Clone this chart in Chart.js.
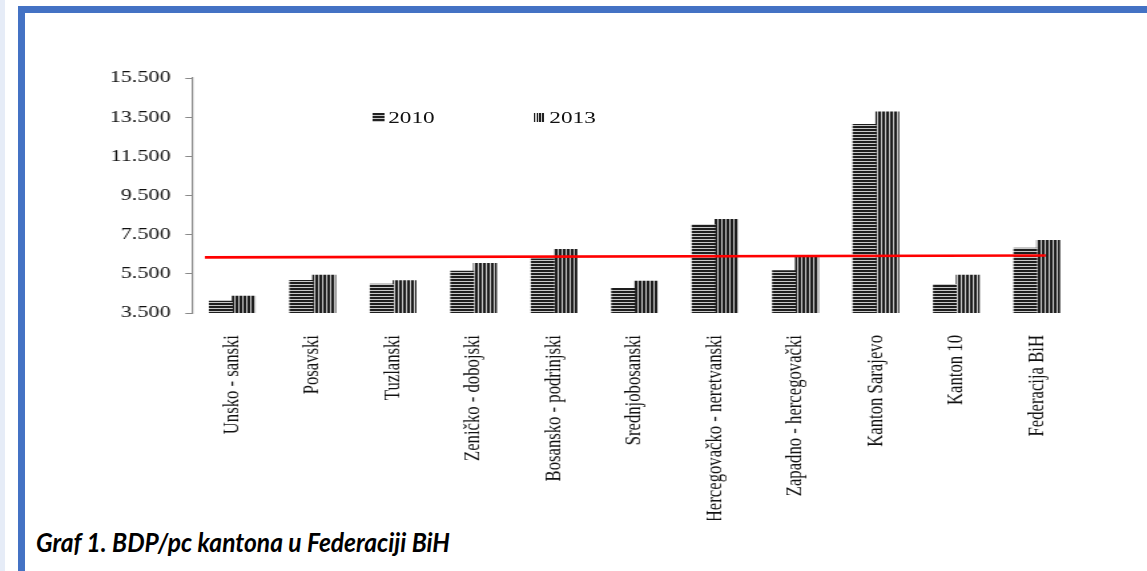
<!DOCTYPE html>
<html>
<head>
<meta charset="utf-8">
<script src="https://cdn.jsdelivr.net/npm/chart.js@4.4.1/dist/chart.umd.min.js"></script>
<style>
html,body{margin:0;padding:0;background:#fff;width:1147px;height:571px;overflow:hidden;position:relative}
#strip{position:absolute;left:0;top:0;width:5px;height:571px;background:#e6ecf7}
#bl{position:absolute;left:18px;top:6px;width:7px;height:565px;background:#4472c4}
#bt{position:absolute;left:18px;top:6px;width:1129px;height:7px;background:#4472c4}
#wrap{position:absolute;left:0;top:0;width:862px;height:520px;transform:scaleX(1.33063);transform-origin:0 0}
#box{position:absolute;left:0;top:0;width:862px;height:520px}
.lg{position:absolute;font-family:"Liberation Serif","Times New Roman",serif;font-size:17.5px;line-height:17.5px;color:#111;white-space:nowrap}
.sw{position:absolute;width:9px;height:9px}
#sw1{left:279.7px;top:113px;background:repeating-linear-gradient(to bottom,#222 0px,#222 2px,#c8c8c8 2px,#c8c8c8 3px)}
#sw2{left:400.8px;top:113px;width:8.3px;background:repeating-linear-gradient(to right,#222 0px,#222 1.4px,#c8c8c8 1.4px,#c8c8c8 2.2px)}
#lt1{left:291.7px;top:108.6px}
#lt2{left:412.8px;top:108.6px}
#title{position:absolute;left:36px;top:527px;font-family:Lato,"Open Sans",sans-serif;font-style:italic;font-weight:700;font-size:26.5px;line-height:30px;color:#000;white-space:nowrap;transform-origin:0 0}
</style>
</head>
<body>
<div id="strip"></div>
<div id="bl"></div>
<div id="bt"></div>
<div id="wrap">
  <div id="box"><canvas id="c"></canvas></div>
  <div class="sw" id="sw1"></div><div class="lg" id="lt1">2010</div>
  <div class="sw" id="sw2"></div><div class="lg" id="lt2">2013</div>
</div>
<div id="title">Graf 1. BDP/pc kantona u Federaciji BiH</div>
<script>
// ---- data ----
const categories = ['Unsko - sanski','Posavski','Tuzlanski','Zeničko - dobojski','Bosansko - podrinjski','Srednjobosanski','Hercegovačko - neretvanski','Zapadno - hercegovački','Kanton Sarajevo','Kanton 10','Federacija BiH'];
const series2010 = [4110, 5170, 4980, 5640, 6260, 4760, 8020, 5660, 13140, 4960, 6820];
const series2013 = [4370, 5440, 5150, 6040, 6750, 5130, 8280, 6370, 13770, 5440, 7210];
const seriesNames = ['2010', '2013'];
const yTicks = [3500, 5500, 7500, 9500, 11500, 13500, 15500];
// red reference line (category-index position, value)
const redLineX = [-0.34, 10.11];
const redLineY = [6340, 6440];

// title width fit
const t = document.getElementById('title');
t.style.transform = 'scaleX(' + (414 / t.getBoundingClientRect().width) + ')';

function pattern(horizontal) {
  const c = document.createElement('canvas');
  const dark = '#1e1e1e', light = '#c8c8c8';
  const seq = [dark, dark, light];
  if (horizontal) { c.width = 1; c.height = seq.length; } else { c.width = seq.length; c.height = 1; }
  const x = c.getContext('2d');
  seq.forEach((col, i) => { x.fillStyle = col; if (horizontal) x.fillRect(0, i, 1, 1); else x.fillRect(i, 0, 1, 1); });
  return x.createPattern(c, 'repeat');
}
const ctx = document.getElementById('c').getContext('2d');
const pH = pattern(true), pV = pattern(false);

Chart.defaults.font.family = '"Liberation Serif","Times New Roman",serif';
Chart.defaults.color = '#111';

const fmt = v => String(v).replace(/\B(?=(\d{3})+(?!\d))/g, '.');

new Chart(ctx, {
  type: 'bar',
  data: {
    labels: categories,
    datasets: [
      { type: 'line', label: 'ref', xAxisID: 'x2', order: 0,
        data: redLineX.map((x, i) => ({ x: x, y: redLineY[i] })),
        borderColor: '#ff0000', borderWidth: 2.6, pointRadius: 0, fill: false, tension: 0 },
      { label: seriesNames[0], data: series2010, backgroundColor: pH, borderWidth: 0, order: 1, barThickness: 17.2 },
      { label: seriesNames[1], data: series2013, backgroundColor: pV, borderWidth: 0, order: 1, barThickness: 17.2 }
    ]
  },
  options: {
    responsive: true, maintainAspectRatio: false, animation: false,
    layout: { padding: { left: 0, right: 52.6, top: 78, bottom: 0 } },
    plugins: { legend: { display: false }, tooltip: { enabled: false } },
    scales: {
      x: {
        grid: { display: false }, border: { display: false },
        ticks: { maxRotation: 90, minRotation: 90, padding: 14, autoSkip: false, font: { size: 16.7 }, color: '#111' },
        afterFit: s => { s.height = 520 - 313; }
      },
      x2: { type: 'linear', display: false, offset: false, min: -0.5, max: 10.5, grid: { offset: false } },
      y: {
        min: yTicks[0], max: yTicks[yTicks.length - 1],
        afterBuildTicks: s => { s.ticks = yTicks.map(v => ({ value: v })); },
        ticks: { callback: v => fmt(v), padding: 11, font: { size: 16.7 }, color: '#111' },
        grid: { drawOnChartArea: false, drawTicks: true, tickLength: 5, color: '#898989', lineWidth: 1 },
        border: { display: true, color: '#898989', width: 1.2 },
        afterFit: s => { s.width = 144.29; }
      }
    }
  }
});
</script>
</body>
</html>
